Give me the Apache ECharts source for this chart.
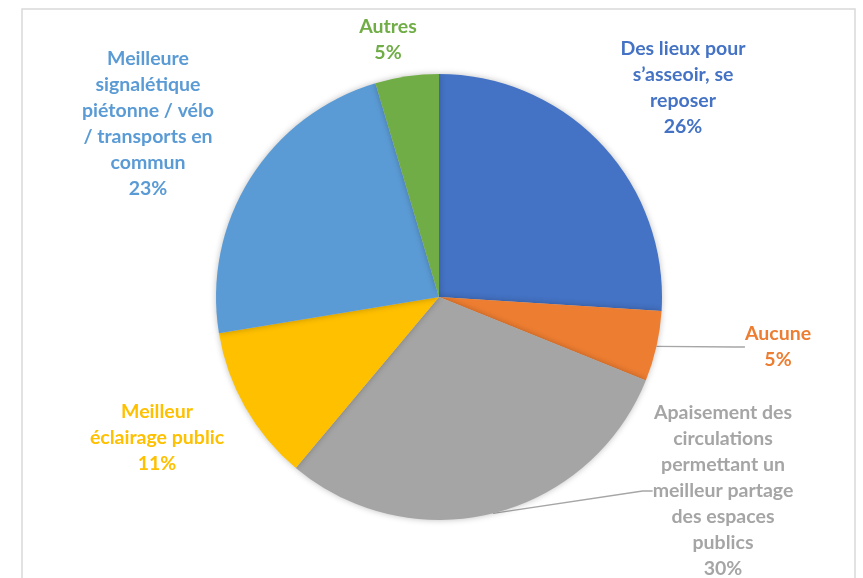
<!DOCTYPE html>
<html><head><meta charset="utf-8">
<script src="https://cdn.jsdelivr.net/npm/echarts@6/dist/echarts.min.js"></script>
<style>html,body{margin:0;padding:0;background:#fff}#c{width:863px;height:578px}</style>
</head><body><div id="c"></div>
<script>
const categories = [
  "Des lieux pour\ns’asseoir, se\nreposer",
  "Aucune",
  "Apaisement des\ncirculations\npermettant un\nmeilleur partage\ndes espaces\npublics",
  "Meilleur\néclairage public",
  "Meilleure\nsignalétique\npiétonne / vélo\n/ transports en\ncommun",
  "Autres"
];
const values = [26.0, 5.1, 30.0, 11.3, 23.0, 4.6];
const percentLabels = ["26%", "5%", "30%", "11%", "23%", "5%"];

const colors = ["#4472C4", "#ED7D31", "#A5A5A5", "#FFC000", "#5B9BD5", "#70AD47"];
const labelPos = [[683, 88], [778, 347], [723, 491], [157, 438], [148, 124], [388, 40]];
const showLine = [false, true, true, false, false, false];

const chart = echarts.init(document.getElementById('c'));
chart.setOption({
  animation: false,
  graphic: [{
    type: 'rect', shape: {x: 22, y: 9, width: 833, height: 600},
    style: {fill: 'none', stroke: '#D9D9D9', lineWidth: 1.5}, silent: true, z: -10
  }],
  series: [{
    type: 'pie',
    center: [439, 297],
    radius: 223,
    startAngle: 90,
    clockwise: true,
    avoidLabelOverlap: false,
    itemStyle: {borderWidth: 0, shadowBlur: 6, shadowColor: 'rgba(0,0,0,0.25)'},
    label: {
      show: true,
      position: 'outside',
      fontFamily: 'Lato',
      fontWeight: 'bold',
      fontSize: 19.5,
      lineHeight: 26,
      align: 'center',
      formatter: p => categories[p.dataIndex] + '\n' + percentLabels[p.dataIndex]
    },
    labelLine: {show: true, length: 10, length2: 10, lineStyle: {color: '#A6A6A6', width: 1.3}},
    labelLayout: p => ({
      x: labelPos[p.dataIndex][0],
      y: labelPos[p.dataIndex][1],
      align: 'center',
      verticalAlign: 'middle'
    }),
    data: values.map((v, i) => ({
      value: v,
      name: categories[i],
      itemStyle: {color: colors[i]},
      label: {color: colors[i]},
      labelLine: {show: showLine[i]}
    }))
  }]
});
</script></body></html>
